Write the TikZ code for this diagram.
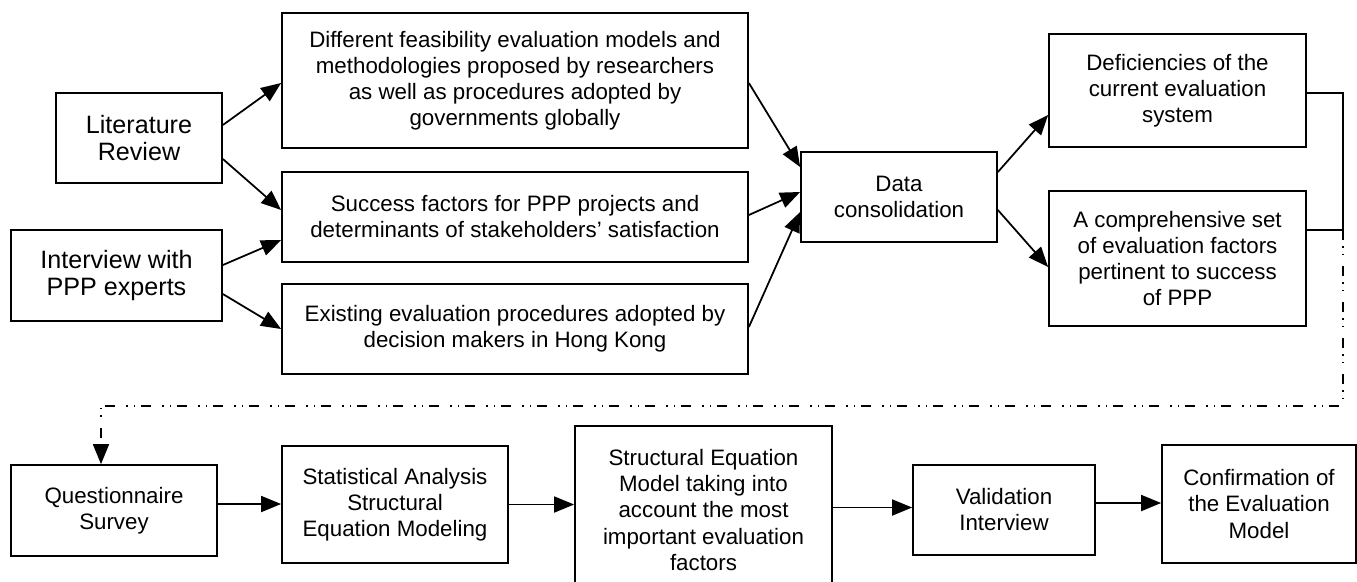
\documentclass[tikz,border=0pt]{standalone}
\usepackage{fontspec}
\setmainfont{Liberation Sans}
\usetikzlibrary{arrows.meta}

\tikzset{
    box/.style={draw=black, line width=1pt, align=center, inner sep=0pt,
        font=\fontsize{12.7}{14.8}\selectfont},
    bigbox/.style={box, font=\fontsize{14.3}{15.6}\selectfont},
    arr/.style={line width=1pt, -{Triangle[length=4mm,width=3.2mm]}},
    link/.style={line width=1pt},
    dashdotdot/.style={line width=1pt,
        dash pattern=on 0.2cm off 0.12cm on 0.03cm off 0.12cm on 0.03cm off 0.22cm}
}

\begin{document}
\begin{tikzpicture}
    \useasboundingbox (0,0) rectangle (27.14,-11.62);

    % sources
    \node[bigbox, minimum width=3.32cm, minimum height=1.8cm] (lit) at (2.78,-2.76) {Literature\\Review};
    \node[bigbox, minimum width=4.22cm, minimum height=1.82cm] (intv) at (2.33,-5.51) {Interview with\\PPP experts};

    % findings
    \node[box, minimum width=9.32cm, minimum height=2.7cm] (diff) at (10.3,-1.61)
        {Different feasibility evaluation models and\\methodologies proposed by researchers\\as well as procedures adopted by\\governments globally};
    \node[box, minimum width=9.32cm, minimum height=1.8cm] (succ) at (10.3,-4.34)
        {Success factors for PPP projects and\\determinants of stakeholders’ satisfaction};
    \node[box, minimum width=9.32cm, minimum height=1.8cm] (exist) at (10.3,-6.58)
        {Existing evaluation procedures adopted by\\decision makers in Hong Kong};

    \node[box, minimum width=3.92cm, minimum height=1.8cm] (data) at (17.98,-3.94) {Data\\consolidation};

    \node[box, minimum width=5.14cm, minimum height=2.26cm] (defi) at (23.55,-1.81)
        {Deficiencies of the\\current evaluation\\system};
    \node[box, minimum width=5.14cm, minimum height=2.7cm] (comp) at (23.55,-5.17)
        {A comprehensive set\\of evaluation factors\\pertinent to success\\of PPP};

    % second stage
    \node[box, minimum width=4.12cm, minimum height=1.82cm] (quest) at (2.28,-10.21) {Questionnaire\\Survey};
    \node[box, minimum width=4.52cm, minimum height=2.34cm] (stat) at (7.9,-10.09)
        {Statistical Analysis\\Structural\\Equation Modeling};
    \node[box, minimum width=5.14cm, minimum height=3.36cm] (sem) at (14.07,-10.2)
        {Structural Equation\\Model taking into\\account the most\\important evaluation\\factors};
    \node[box, minimum width=3.64cm, minimum height=1.8cm] (valid) at (20.08,-10.2) {Validation\\Interview};
    \node[box, minimum width=3.88cm, minimum height=2.36cm] (conf) at (25.18,-10.08)
        {Confirmation of\\the Evaluation\\Model};

    \draw[arr] ([yshift=0.26cm]lit.east) -- ([yshift=-0.05cm]diff.west);
    \draw[arr] ([yshift=-0.42cm]lit.east) -- ([yshift=0.14cm]succ.west);
    \draw[arr] ([yshift=0.21cm]intv.east) -- ([yshift=-0.46cm]succ.west);
    \draw[arr] ([yshift=-0.37cm]intv.east) -- (exist.west);

    \draw[arr] ([yshift=-0.05cm]diff.east) -- ([yshift=0.6cm]data.west);
    \draw[arr] ([yshift=0.04cm]succ.east) -- ([yshift=0.1cm]data.west);
    \draw[arr] ([yshift=0.04cm]exist.east) -- ([yshift=-0.3cm]data.west);

    \draw[arr] ([yshift=0.5cm]data.east) -- ([yshift=-0.49cm]defi.west);
    \draw[arr] ([yshift=-0.26cm]data.east) -- ([yshift=-0.17cm]comp.west);

    % feedback into the survey
    \coordinate (jn) at (26.86,-4.6);
    \coordinate (turn) at (26.86,-8.12);
    \draw[link] ([yshift=-0.05cm]defi.east) -| (jn);
    \draw[link] ([yshift=0.57cm]comp.east) -- (jn);
    \draw[dashdotdot, -{Triangle[length=4mm,width=3.2mm]}] (jn) -- (turn)
        -| ([xshift=-0.26cm]quest.north);

    \draw[arr] ([yshift=0.13cm]quest.east) -- ([yshift=0.13cm]quest.east -| stat.west);
    \draw[arr] (stat.east) -- (stat.east -| sem.west);
    \draw[arr] ([yshift=0.05cm]sem.east) -- ([yshift=0.05cm]sem.east -| valid.west);
    \draw[arr] ([yshift=0.14cm]valid.east) -- ([yshift=0.14cm]valid.east -| conf.west);
\end{tikzpicture}
\end{document}
